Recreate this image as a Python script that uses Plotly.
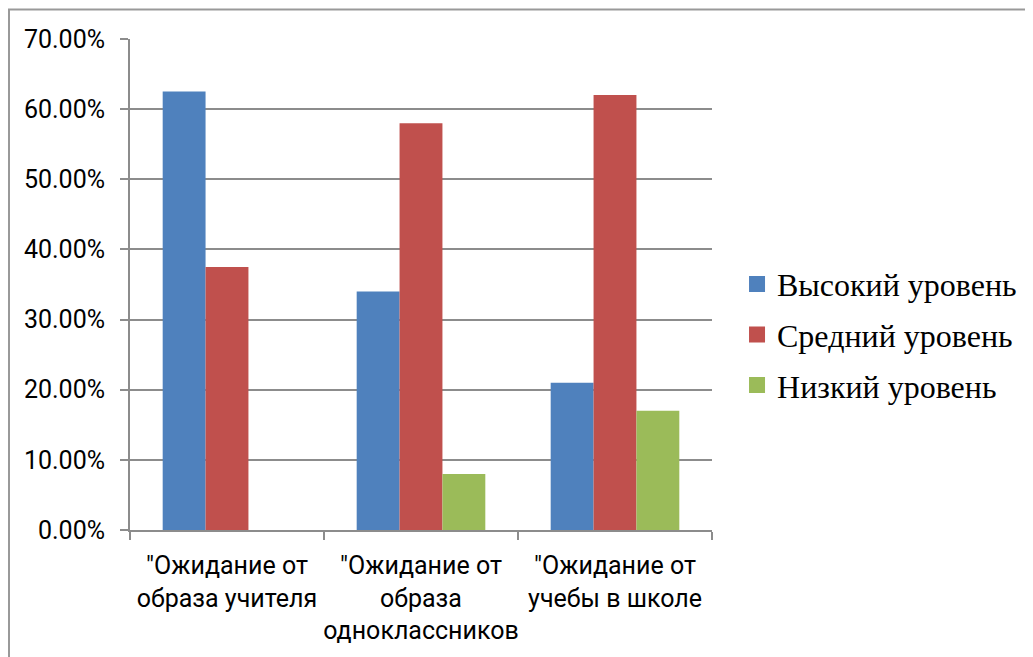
import plotly.graph_objects as go

categories = ['"Ожидание от<br>образа учителя',
              '"Ожидание от<br>образа<br>одноклассников',
              '"Ожидание от<br>учебы в школе']
high = [0.625, 0.34, 0.21]
medium = [0.375, 0.58, 0.62]
low = [None, 0.08, 0.17]

series_names = ["Высокий уровень", "Средний уровень", "Низкий уровень"]
colors = ["#4F81BD", "#C0504D", "#9BBB59"]

fig = go.Figure()
for i, (name, vals, col) in enumerate(zip(series_names, [high, medium, low], colors)):
    fig.add_trace(go.Bar(x=categories, y=vals, name=name, marker_color=col,
                         marker_line_width=0, showlegend=False))
    # bigger square legend symbol
    fig.add_trace(go.Scatter(x=[None], y=[None], mode="markers", name=name,
                             legendgroup=f"g{i}",
                             marker=dict(symbol="square", size=16, color=col)))

grid = "#8C8C8C"
fig.update_layout(
    width=1033, height=657,
    margin=dict(l=122, r=329, t=31, b=135, autoexpand=False),
    paper_bgcolor="white", plot_bgcolor="white",
    barmode="group", bargap=0.337, bargroupgap=0,
    font=dict(family="Roboto", size=25, color="black"),
    legend=dict(x=1.043, xanchor="left", y=0.398, yanchor="middle",
                font=dict(family="Liberation Serif", size=32, color="black"),
                itemwidth=30, tracegroupgap=6, borderwidth=0),
    xaxis=dict(showline=True, linecolor=grid, linewidth=2,
               ticks="outside", tickson="boundaries", ticklen=8,
               tickcolor=grid, tickwidth=2, showgrid=False,
               ticklabelstandoff=12, tickangle=0, automargin=False,
               tickfont=dict(family="Roboto", size=25)),
    yaxis=dict(range=[0, 0.7], dtick=0.1, tickformat=".2%",
               showline=True, linecolor=grid, linewidth=2,
               showgrid=True, gridcolor=grid, gridwidth=2,
               ticks="outside", ticklen=8, tickcolor=grid, tickwidth=2,
               zeroline=False, ticklabelstandoff=10, automargin=False),
    shapes=[dict(type="rect", xref="paper", yref="paper",
                 x0=-0.2079, x1=1.5498, y0=-0.35, y1=1.060,
                 line=dict(color="#999999", width=2))],
)

fig.write_html("out.html")
